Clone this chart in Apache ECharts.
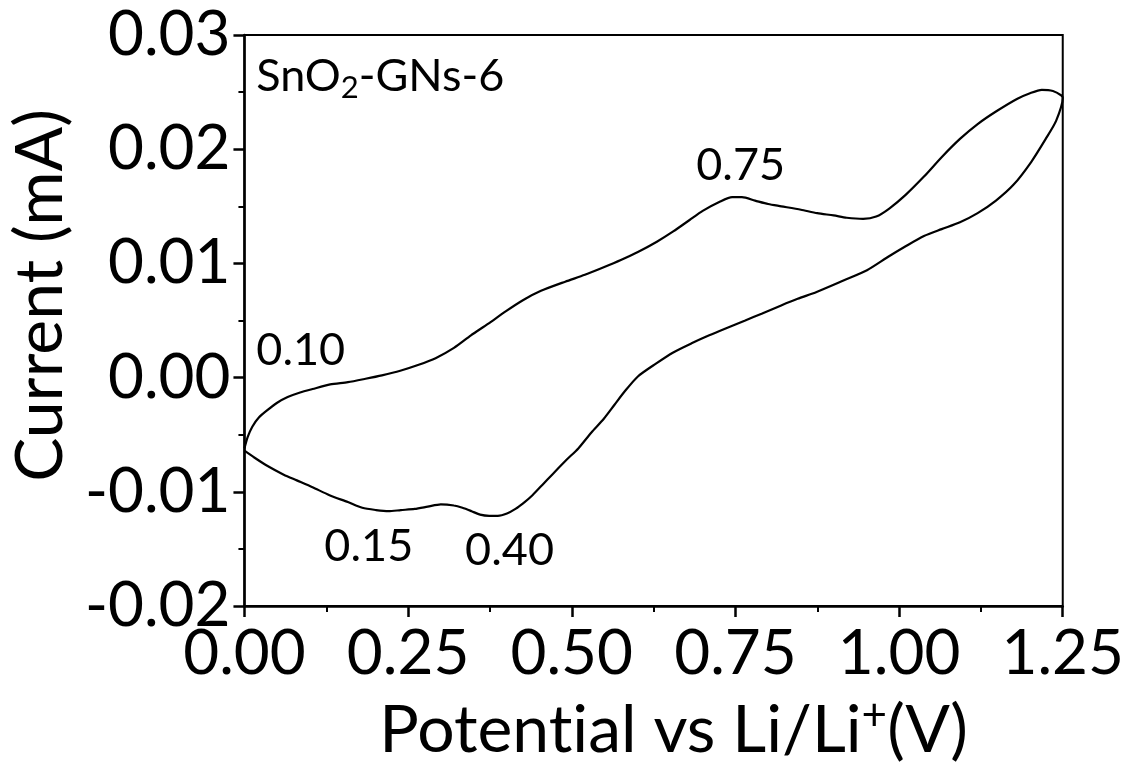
<!DOCTYPE html>
<html>
<head>
<meta charset="utf-8">
<script src="https://cdn.jsdelivr.net/npm/echarts@6/dist/echarts.min.js"></script>
<style>
html,body{margin:0;padding:0;background:#fff;}
#chart{width:1127px;height:769px;}
</style>
</head>
<body>
<div id="chart"></div>
<script>
// Anodic sweep (0 -> 1.25 V)
const upperPotential = [0.000,0.005,0.012,0.022,0.034,0.050,0.066,0.085,0.104,0.131,0.158,0.185,0.210,0.238,0.265,0.292,0.320,0.346,0.372,0.399,0.426,0.453,0.490,0.520,0.546,0.575,0.601,0.630,0.655,0.680,0.700,0.726,0.745,0.760,0.780,0.800,0.820,0.850,0.875,0.900,0.920,0.945,0.965,0.985,1.010,1.038,1.065,1.093,1.120,1.148,1.180,1.200,1.218,1.235,1.248,1.250];
const upperCurrent = [-0.0062,-0.0052,-0.0043,-0.0035,-0.0029,-0.0022,-0.0017,-0.0013,-0.0010,-0.0006,-0.0004,-0.0001,0.0002,0.0006,0.0011,0.0017,0.0026,0.0037,0.0047,0.0058,0.0068,0.0076,0.0084,0.0090,0.0096,0.0103,0.0110,0.0119,0.0128,0.0138,0.0146,0.0154,0.0158,0.0158,0.0155,0.0152,0.0150,0.0147,0.0144,0.0142,0.0140,0.0139,0.0141,0.0148,0.0160,0.0176,0.0193,0.0209,0.0222,0.0233,0.0244,0.0249,0.0252,0.0251,0.0247,0.0245];
// Cathodic sweep (1.25 -> 0 V)
const lowerPotential = [1.240,1.224,1.202,1.175,1.148,1.120,1.093,1.065,1.038,1.010,0.984,0.951,0.915,0.874,0.845,0.819,0.790,0.765,0.735,0.710,0.683,0.655,0.628,0.601,0.581,0.565,0.549,0.530,0.510,0.492,0.470,0.455,0.440,0.428,0.414,0.401,0.387,0.374,0.360,0.347,0.333,0.320,0.300,0.280,0.260,0.239,0.220,0.201,0.180,0.158,0.130,0.104,0.080,0.060,0.034,0.015,0.000];
const lowerCurrent = [0.0225,0.0209,0.0189,0.0169,0.0155,0.0144,0.0136,0.0130,0.0124,0.0115,0.0106,0.0094,0.0085,0.0075,0.0069,0.0063,0.0056,0.0050,0.0043,0.0037,0.0030,0.0022,0.0012,0.0001,-0.0012,-0.0024,-0.0036,-0.0048,-0.0062,-0.0072,-0.0085,-0.0094,-0.0103,-0.0109,-0.0115,-0.0119,-0.0121,-0.0121,-0.0120,-0.0117,-0.0114,-0.0112,-0.0111,-0.0113,-0.0115,-0.0116,-0.0117,-0.0116,-0.0114,-0.0109,-0.0103,-0.0096,-0.0090,-0.0085,-0.0077,-0.0070,-0.0064];

// Peak annotations
const peakLabels = ['0.10','0.75','0.15','0.40'];
const peakLabelX = [0.086,0.758,0.190,0.405];
const peakLabelY = [0.0024,0.0186,-0.0148,-0.0151];
const sampleName = 'SnO{sub|2}-GNs-6';
const sampleX = 0.018, sampleY = 0.0264;

const xTicks = {min:0, max:1.25, interval:0.25};
const yTicks = {min:-0.02, max:0.03, interval:0.01};

const FONT = 'Lato';
const loop = [];
upperPotential.forEach((x,i)=>loop.push([x, upperCurrent[i]]));
lowerPotential.forEach((x,i)=>loop.push([x, lowerCurrent[i]]));

const annData = peakLabels.map((t,i)=>({value:[peakLabelX[i], peakLabelY[i]], name:t}));

const chart = echarts.init(document.getElementById('chart'), null, {renderer:'canvas'});
chart.setOption({
  animation:false,
  backgroundColor:'#fff',
  grid:{left:233, right:64, top:35, bottom:159, show:true, borderColor:'#000', borderWidth:2, backgroundColor:'transparent'},
  xAxis:{
    type:'value', min:xTicks.min, max:xTicks.max, interval:xTicks.interval,
    name:'Potent\u200Cial vs Li/Li{sup|+}(V)', nameLocation:'middle', nameGap:88,
    nameTextStyle:{fontFamily:FONT, fontSize:66, color:'#000', padding:[0,0,0,40],
      rich:{sup:{fontFamily:FONT, fontSize:44, color:'#000', verticalAlign:'bottom', padding:[0,0,30,0]}}},
    axisLine:{show:true, onZero:false, lineStyle:{color:'#000', width:2.5}},
    axisTick:{show:true, inside:false, length:11, lineStyle:{color:'#000', width:2.5}},
    minorTick:{show:true, splitNumber:2, length:6, lineStyle:{color:'#000', width:2}},
    splitLine:{show:false},
    axisLabel:{fontFamily:FONT, fontSize:62, color:'#000', margin:17, formatter:v=>v.toFixed(2)}
  },
  yAxis:{
    type:'value', min:yTicks.min, max:yTicks.max, interval:yTicks.interval,
    name:'Current (mA)', nameLocation:'middle', nameGap:157, nameRotate:90,
    nameTextStyle:{fontFamily:FONT, fontSize:66, color:'#000', padding:[0,0,0,50]},
    axisLine:{show:true, onZero:false, lineStyle:{color:'#000', width:2.5}},
    axisTick:{show:true, inside:false, length:11, lineStyle:{color:'#000', width:2.5}},
    minorTick:{show:true, splitNumber:2, length:6, lineStyle:{color:'#000', width:2}},
    splitLine:{show:false},
    axisLabel:{fontFamily:FONT, fontSize:62, color:'#000', margin:14, formatter:v=>v.toFixed(2)}
  },
  series:[
    {type:'line', data:loop, showSymbol:false, symbol:'none', smooth:0.25,
     lineStyle:{color:'#000', width:2.2}, silent:true, z:3},
    {type:'scatter', data:annData, symbolSize:0, silent:true, itemStyle:{opacity:1},
     label:{show:true, position:'inside', opacity:1, formatter:p=>p.name, fontFamily:FONT, fontSize:45, color:'#000'}},
    {type:'scatter', data:[{value:[sampleX, sampleY], name:sampleName}], symbolSize:0, silent:true, itemStyle:{opacity:1},
     label:{show:true, position:'right', distance:0, opacity:1, formatter:p=>p.name, fontFamily:FONT, fontSize:45, color:'#000',
       rich:{sub:{fontFamily:FONT, fontSize:31, color:'#000', verticalAlign:'bottom', padding:[24,0,0,0]}}}}
  ]
});
</script>
</body>
</html>
